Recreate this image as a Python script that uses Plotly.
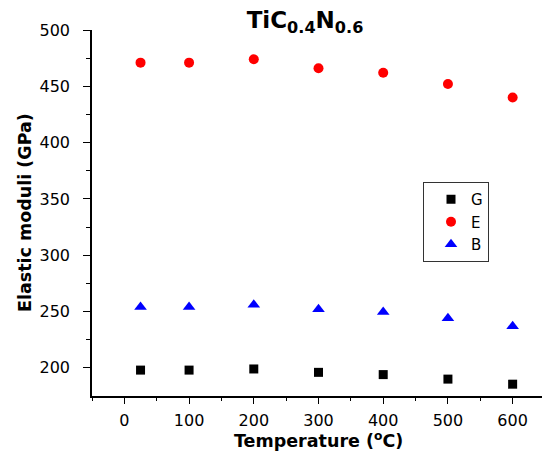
import plotly.graph_objects as go

temps = [25, 100, 200, 300, 400, 500, 600]
G_vals = [198, 198, 199, 196, 194, 190, 185.5]
E_vals = [471, 471, 474, 466, 462, 452, 440]
B_vals = [254, 254, 256, 252, 249.5, 244, 237]

FONT = "DejaVu Sans, sans-serif"
BFONT = "DejaVu Sans, sans-serif"

# page body adds an 8px offset; plot area targets screen x 92..545, y 30..396
L, T, W, H = 84, 22, 453, 366

fig = go.Figure()
fig.add_trace(go.Scatter(x=temps, y=G_vals, mode="markers", name="G", legendgroup="g",
                         marker=dict(symbol="square", size=9, color="black")))
fig.add_trace(go.Scatter(x=temps, y=E_vals, mode="markers", name="E", legendgroup="e",
                         marker=dict(symbol="circle", size=10, color="red")))
fig.add_trace(go.Scatter(x=temps, y=B_vals, mode="markers", name="B", legendgroup="b",
                         marker=dict(symbol="triangle-up", size=11, color="blue")))

fig.update_layout(
    width=550, height=460,
    margin=dict(l=L, r=550 - L - W, t=T, b=460 - T - H, autoexpand=False),
    paper_bgcolor="white", plot_bgcolor="white",
    font=dict(family=FONT, size=16, color="black"),
    title=dict(text="<b>TiC<sub>0.4</sub>N<sub>0.6</sub></b>", x=(305 - 92) / 453, xref="paper",
               xanchor="center", y=1 - 12 / 460, yanchor="middle",
               font=dict(size=23, family=BFONT)),
    showlegend=True,
    legend=dict(x=(423 - 92) / 453, y=(396 - 182) / 366, xanchor="left", yanchor="top",
                bordercolor="#333", borderwidth=1, bgcolor="white", indentation=7,
                entrywidth=58, entrywidthmode="pixels",
                font=dict(size=15, family=FONT), tracegroupgap=5, traceorder="normal"),
    xaxis=dict(range=[-50, 650], tickvals=[0, 100, 200, 300, 400, 500, 600],
               ticks="outside", ticklen=6, tickwidth=1.2, tickcolor="black",
               showline=True, linecolor="black", linewidth=1.5, showgrid=False,
               zeroline=False, tickfont=dict(size=16), automargin=False, ticklabelstandoff=3,
               minor=dict(tickvals=[-50, 50, 150, 250, 350, 450, 550, 650], ticks="outside", ticklen=3,
                          tickcolor="black", tickwidth=1.2)),
    yaxis=dict(range=[175, 500], tickvals=[200, 250, 300, 350, 400, 450, 500],
               ticks="outside", ticklen=7, tickwidth=1.2, tickcolor="black",
               showline=True, linecolor="black", linewidth=1.5, showgrid=False,
               zeroline=False, tickfont=dict(size=16), automargin=False, ticklabelstandoff=10,
               minor=dict(tickvals=[225, 275, 325, 375, 425, 475], ticks="outside", ticklen=4,
                          tickcolor="black", tickwidth=1.2)),
    annotations=[
        dict(text="<b>Temperature (<sup>o</sup>C)</b>", xref="paper", yref="paper",
             x=(318 - 92) / 453, y=(396 - 440) / 366, xanchor="center", yanchor="middle",
             showarrow=False, font=dict(size=17.5, family=BFONT)),
        dict(text="<b>Elastic moduli (GPa)</b>", xref="paper", yref="paper",
             x=(25 - 92) / 453, y=0.5, xanchor="center", yanchor="middle", textangle=-90,
             showarrow=False, font=dict(size=17.5, family=BFONT)),
    ],
)

fig.write_html("out.html")
